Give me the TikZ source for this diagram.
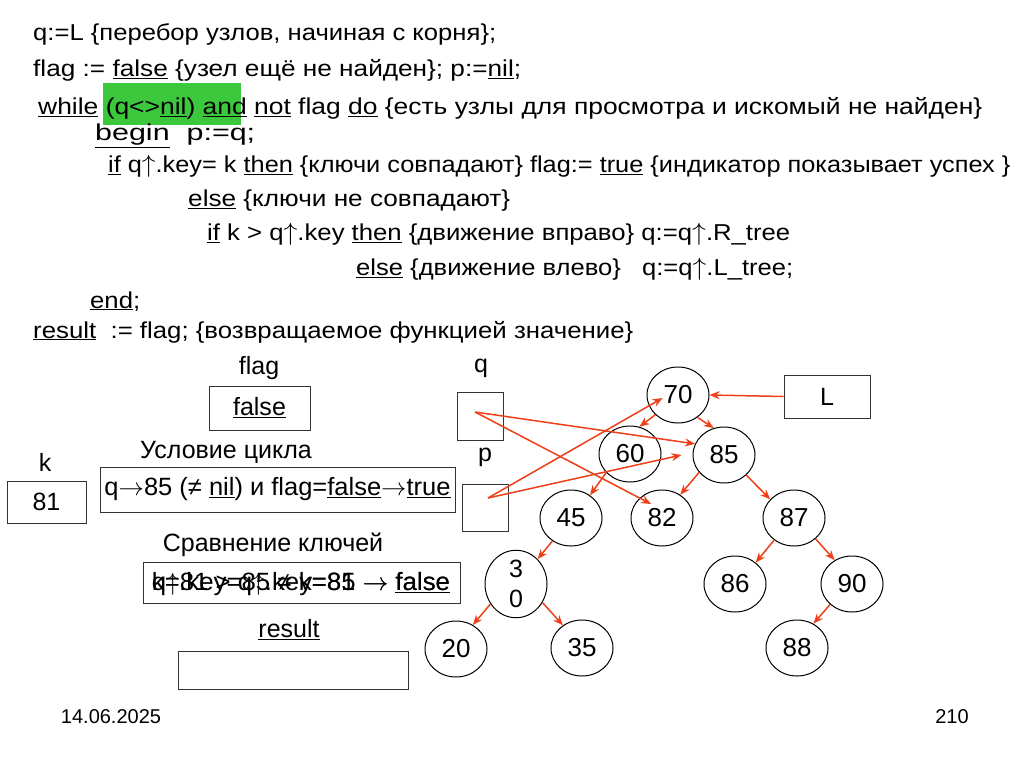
\documentclass[tikz,border=0pt]{standalone}
\usepackage{fontspec}
\setmainfont{Liberation Sans}
\usetikzlibrary{arrows.meta,calc,shapes.geometric}
\definecolor{arr}{RGB}{238,64,24}
\definecolor{hl}{RGB}{60,200,60}
\newcommand{\ul}[1]{\underline{#1}}
\newcommand{\fitw}[2]{\resizebox{#1}{\height}{#2}}
\newcommand{\uar}{\ensuremath{\uparrow}}
\newcommand{\rar}{\ensuremath{\rightarrow}}
\begin{document}
\begin{tikzpicture}[x=1pt,y=-1pt,
  codeline/.style={anchor=base west, inner sep=0pt, font=\fontsize{23}{26}\selectfont},
  lbl/.style={font=\fontsize{25}{28}\selectfont, inner sep=0pt},
  varbox/.style={draw=black!80, line width=1pt, inner sep=0pt, font=\fontsize{25}{28}\selectfont},
  tnode/.style={ellipse, draw, line width=1pt, minimum width=62pt, minimum height=56pt, inner sep=0pt, font=\fontsize{26}{30}\selectfont},
  tarr/.style={draw=arr, line width=1.5pt, -{Stealth[length=10pt,width=8pt]}},
  foot/.style={font=\fontsize{20}{22}\selectfont, inner sep=0pt},
]
\useasboundingbox[fill=white] (0,0) rectangle (1024,767);

% highlight
\fill[hl] (103,83) rectangle (241,125);

% code lines
\node[codeline] (l1) at (33,41) {\fitw{463pt}{q:=L \{перебор узлов, начиная с корня\};}};
\node[codeline] (l2) at (33,77) {\fitw{488pt}{flag := \ul{false} \{узел ещё не найден\}; p:=\ul{nil};}};
\node[codeline] (l3) at (38,115) {\fitw{944pt}{\ul{while} (q<>\ul{nil}) \ul{and} \ul{not} flag \ul{do} \{есть узлы для просмотра и искомый не найден\}}};
\node[codeline] (l4) at (95,141) {\fitw{160pt}{\ul{begin}\ \ p:=q;}};
\node[codeline] (l5) at (108,173) {\fitw{902pt}{\ul{if} q\uar.key= k \ul{then} \{ключи совпадают\} flag:= \ul{true} \{индикатор показывает успех \}}};
\node[codeline] (l6) at (188,207) {\fitw{322pt}{\ul{else} \{ключи не совпадают\}}};
\node[codeline] (l7) at (207,241) {\fitw{583pt}{\ul{if} k > q\uar.key \ul{then} \{движение вправо\} q:=q\uar.R\_tree}};
\node[codeline] (l8) at (356,276) {\fitw{437pt}{\ul{else} \{движение влево\}\ \ \ q:=q\uar.L\_tree;}};
\node[codeline] (l9) at (90,308) {\fitw{50pt}{\ul{end};}};
\node[codeline] (l10) at (33,338) {\fitw{600pt}{\ul{result}\ \ := flag; \{возвращаемое функцией значение\}}};

% labels
\node[lbl] (tflag) at (259,368) {flag};
\node[lbl] (tq) at (481,368) {q};
\node[lbl] (tk) at (45,462) {k};
\node[lbl] (tcond) at (226,452) {Условие цикла};
\node[lbl] (tp) at (485,457) {p};
\node[lbl] (tcmp) at (273,545) {Сравнение ключей};
\node[lbl] (tres) at (289,630) {\ul{result}};

% boxes
\node[varbox, minimum width=101pt, minimum height=44pt] (flagbox) at (259.5,408) {\ul{false}};
\node[varbox, minimum width=46pt, minimum height=48pt] (qbox) at (480,416) {};
\node[varbox, minimum width=79pt, minimum height=42pt] (kbox) at (46.5,502) {81};
\node[varbox, minimum width=355pt, minimum height=45pt] (condbox) at (277.5,489.5) {\fitw{346pt}{q\rar85 (≠ \ul{nil}) и flag=\ul{false}\rar\ul{true}}};
\node[varbox, minimum width=46pt, minimum height=47pt] (pbox) at (485,507.5) {};
\node[varbox, minimum width=317pt, minimum height=41pt] (cmpbox) at (301.5,582.5) {};
\node[lbl] (cmp1) at (301,584) {\fitw{298pt}{q\uar.key=85 ≠ k=81 \rar\ \ul{false}}};
\node[lbl] (cmp2) at (301,584) {\fitw{298pt}{k=81 > q\uar.key=85 \rar\ \ul{false}}};
\node[varbox, minimum width=230pt, minimum height=38pt] (resbox) at (293,670) {};
\node[varbox, minimum width=86pt, minimum height=43pt] (Lbox) at (827,396.5) {L};

% tree
\node[tnode] (n70) at (678,395) {70};
\node[tnode] (n60) at (630,454) {60};
\node[tnode] (n85) at (724,455) {85};
\node[tnode] (n45) at (571,518) {45};
\node[tnode] (n82) at (662,518) {82};
\node[tnode] (n87) at (794,518) {87};
\node[tnode, align=center, font=\fontsize{25}{30}\selectfont] (n30) at (516,584) {3\\0};
\node[tnode] (n86) at (735,584) {86};
\node[tnode] (n90) at (852,584) {90};
\node[tnode] (n20) at (456,649) {20};
\node[tnode] (n35) at (582,648) {35};
\node[tnode] (n88) at (797,648) {88};

\draw[tarr] (Lbox.west) -- (n70.east);
\draw[tarr] (n70.221) -- (n60.71);
\draw[tarr] (n70.311) -- (n85.111);
\draw[tarr] (n60.218) -- (n45.50);
\draw[tarr] (n85.215) -- (n82.52);
\draw[tarr] (n85.318) -- (n87.142);
\draw[tarr] (n45.231) -- (n30.49);
\draw[tarr] (n30.218) -- (n20.55);
\draw[tarr] (n30.325) -- (n35.130);
\draw[tarr] (n87.228) -- (n86.46);
\draw[tarr] (n87.316) -- (n90.126);
\draw[tarr] (n90.223) -- (n88.56);

% pointers
\coordinate (qs) at (475,412);
\coordinate (ps) at (488,498);
\draw[tarr] (qs) -- (n85.159);
\draw[tarr] (qs) -- ($(n82)!0.6!(n82.128)$);
\draw[tarr] (ps) -- ($(n70)!0.5!(n70.191)$);
\draw[tarr] (ps) -- ([xshift=-11pt]n85.west);

% footer
\node[foot] (date) at (111,717) {14.06.2025};
\node[foot] (page) at (952,717) {210};
\end{tikzpicture}
\end{document}
